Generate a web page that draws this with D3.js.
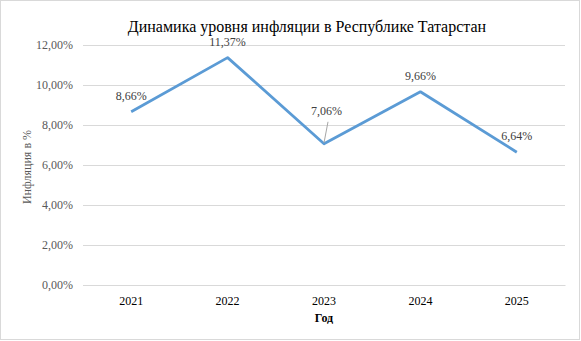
<!DOCTYPE html>
<html><head><meta charset="utf-8">
<script src="https://cdn.jsdelivr.net/npm/d3@7"></script>
<style>body{margin:0;background:#fff}svg{display:block}</style>
</head><body><svg id="c" width="581" height="341"></svg>
<script>
const years = ["2021","2022","2023","2024","2025"];
const inflation = [8.66, 11.37, 7.06, 9.66, 6.64];
const yTicks = [0, 2, 4, 6, 8, 10, 12];
const title = "Динамика уровня инфляции в Республике Татарстан";
const xTitle = "Год";
const yTitle = "Инфляция в %";

const FONT = "'Liberation Serif', 'Times New Roman', serif";
const svg = d3.select("#c");
const fmt = v => v.toFixed(2).replace(".", ",") + "%";
svg.append("rect").attr("x",0.5).attr("y",0.5).attr("width",579).attr("height",339)
  .attr("fill","#fff").attr("stroke","#d9d9d9");

const x = d3.scaleBand().domain(years).range([83,565]);
const y = d3.scaleLinear().domain([0,12]).range([285,45]);

const yAxis = svg.append("g").attr("transform","translate(83,0)")
  .call(d3.axisLeft(y).tickValues(yTicks).tickSize(-482).tickFormat(fmt).tickPadding(10));
yAxis.attr("font-family", FONT).attr("font-size", 12);
yAxis.select(".domain").remove();
yAxis.selectAll("line").attr("stroke","#d9d9d9");
yAxis.selectAll("text").attr("fill","#595959");

const xAxis = svg.append("g").attr("transform","translate(0,285)")
  .call(d3.axisBottom(x).tickSize(0).tickPadding(11));
xAxis.attr("font-family", FONT).attr("font-size", 12);
xAxis.select(".domain").attr("stroke","#d9d9d9");
xAxis.selectAll("text").attr("fill","#000");

const cx = d => x(d) + x.bandwidth()/2;
const line = d3.line().x((d,i)=>cx(years[i])).y(d=>y(d));
svg.append("path").datum(inflation).attr("d",line).attr("fill","none")
  .attr("stroke","#5b9bd5").attr("stroke-width",2.8).attr("stroke-linejoin","round");

// data labels
const dx = [0,0,2.5,0,0];
const dy = [-12,-12,-29,-12,-12];
inflation.forEach((v,i)=>{
  const px = cx(years[i]), py = y(v);
  if (i===2) {
    svg.append("line").attr("x1",px+4).attr("y1",py-22).attr("x2",px).attr("y2",py-1)
      .attr("stroke","#a6a6a6").attr("stroke-width",1);
  }
  svg.append("text").attr("x",px+dx[i]).attr("y",py+dy[i]).attr("text-anchor","middle")
    .attr("font-family",FONT).attr("font-size",12)
    .attr("fill","#404040").text(fmt(v));
});

svg.append("text").attr("x",307).attr("y",32).attr("text-anchor","middle")
  .attr("font-family",FONT).attr("font-size",16)
  .attr("fill","#000").text(title);
svg.append("text").attr("x",324).attr("y",322).attr("text-anchor","middle")
  .attr("font-family",FONT).attr("font-size",12).attr("font-weight","bold")
  .attr("fill","#000").text(xTitle);
svg.append("text").attr("transform","translate(31,167) rotate(-90)").attr("text-anchor","middle")
  .attr("font-family",FONT).attr("font-size",12)
  .attr("fill","#595959").text(yTitle);
</script></body></html>
